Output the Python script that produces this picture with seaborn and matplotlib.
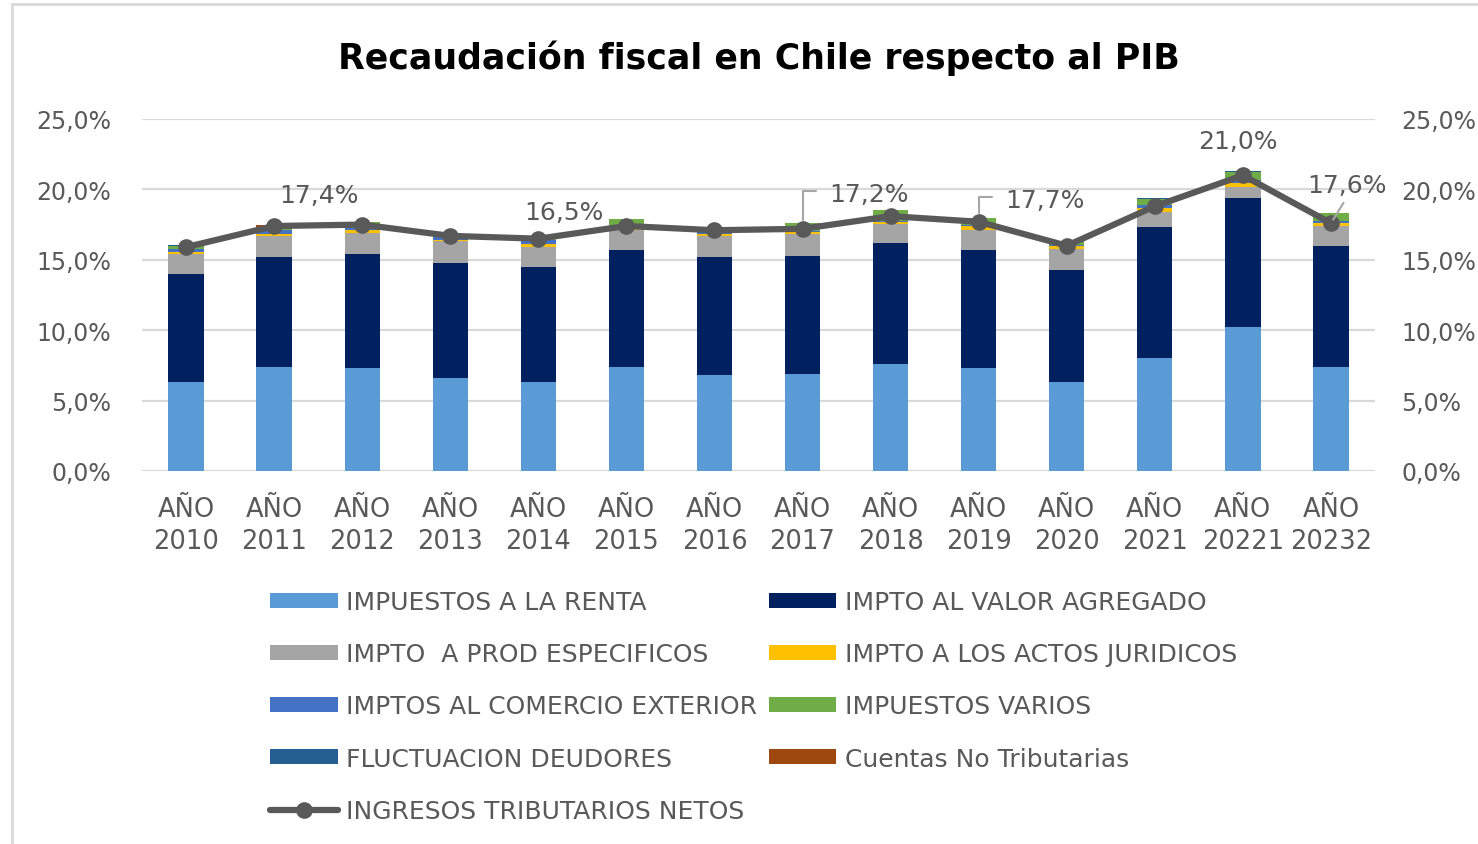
import matplotlib

matplotlib.use("Agg")

import numpy as np
import matplotlib.pyplot as plt
import seaborn as sns
from matplotlib.patches import Patch, Rectangle
from matplotlib.lines import Line2D
from matplotlib.ticker import FuncFormatter

# Categories
years = ["2010", "2011", "2012", "2013", "2014", "2015", "2016",
         "2017", "2018", "2019", "2020", "2021", "20221", "20232"]
categories = ["AÑO\n" + y for y in years]

# Series values (% del PIB)
renta = [6.3, 7.4, 7.3, 6.6, 6.3, 7.4, 6.8, 6.9, 7.6, 7.3, 6.3, 8.0, 10.2, 7.4]
iva = [7.7, 7.8, 8.1, 8.2, 8.2, 8.3, 8.4, 8.4, 8.6, 8.4, 8.0, 9.3, 9.2, 8.6]
prod_especificos = [1.4, 1.5, 1.5, 1.5, 1.4, 1.4, 1.5, 1.5, 1.35, 1.4, 1.5, 1.1, 0.8, 1.4]
actos_juridicos = [0.17, 0.15, 0.19, 0.12, 0.19, 0.1, 0.13, 0.19, 0.17, 0.31, 0.19, 0.29, 0.23, 0.19]
comercio_exterior = [0.19, 0.24, 0.17, 0.19, 0.31, 0.05, 0.15, 0.05, 0.05, 0.05, 0.05, 0.19, 0.24, 0.16]
impuestos_varios = [0.24, 0.1, 0.42, 0.05, 0.12, 0.65, 0.05, 0.55, 0.75, 0.5, 0.25, 0.47, 0.59, 0.55]
fluctuacion = [0.02, 0.02, 0.02, 0.02, 0.02, 0.02, 0.02, 0.02, 0.02, 0.02, 0.02, 0.02, 0.02, 0.02]
cuentas_no_trib = [0.0, 0.25, 0.0, 0.0, 0.0, 0.0, 0.0, 0.0, 0.0, 0.0, 0.0, 0.0, 0.0, 0.0]

ingresos_netos = [15.9, 17.4, 17.5, 16.7, 16.5, 17.4, 17.1, 17.2, 18.1, 17.7, 16.0, 18.8, 21.0, 17.6]

series_names = [
    "IMPUESTOS A LA RENTA",
    "IMPTO AL VALOR AGREGADO",
    "IMPTO  A PROD ESPECIFICOS",
    "IMPTO A LOS ACTOS JURIDICOS",
    "IMPTOS AL COMERCIO EXTERIOR",
    "IMPUESTOS VARIOS",
    "FLUCTUACION DEUDORES",
    "Cuentas No Tributarias",
]
line_name = "INGRESOS TRIBUTARIOS NETOS"

# points that carry a data label
label_idx = [1, 4, 7, 9, 12, 13]

colors = ["#5B9BD5", "#002060", "#A5A5A5", "#FFC000",
          "#4472C4", "#70AD47", "#255E91", "#9E480E"]
text_color = "#595959"
grid_color = "#D9D9D9"

sns.set_style("white")
plt.rcParams["font.family"] = ["DejaVu Sans"]

fig = plt.figure(figsize=(14.78, 8.45), dpi=100)
ax = fig.add_axes([142 / 1478, 1 - 472 / 845, (1375 - 142) / 1478, (472 - 120) / 845])

layers = [renta, iva, prod_especificos, actos_juridicos, comercio_exterior,
          impuestos_varios, fluctuacion, cuentas_no_trib]
cum = np.cumsum(np.array(layers), axis=0)

# stacked bars: draw cumulative totals from the top layer down
for i in range(len(layers) - 1, -1, -1):
    sns.barplot(x=categories, y=cum[i], color=colors[i], width=0.4,
                saturation=1, linewidth=0, ax=ax, zorder=2)

pos = np.arange(len(categories))
sns.lineplot(x=pos, y=ingresos_netos, color="#595959", linewidth=4.5,
             marker="o", markersize=12, markeredgewidth=0, ax=ax, zorder=4)

ax.set_xlim(-0.5, len(categories) - 0.5)
ax.set_ylim(0, 25)
ax.set_yticks([0, 5, 10, 15, 20, 25])
pct = FuncFormatter(lambda v, p: f"{v:.1f}%".replace(".", ","))
ax.yaxis.set_major_formatter(pct)
ax.grid(axis="y", color=grid_color, linewidth=1.6, zorder=0)
ax.set_axisbelow(True)
for s in ax.spines.values():
    s.set_visible(False)
ax.set_xlabel("")
ax.set_ylabel("")
ax.tick_params(axis="y", length=0, pad=22, labelsize=17, labelcolor=text_color)
ax.tick_params(axis="x", length=0, pad=18, labelsize=18.5, labelcolor=text_color)
for t in ax.get_xticklabels():
    t.set_linespacing(1.3)

ax2 = ax.twinx()
ax2.set_ylim(0, 25)
ax2.set_yticks([0, 5, 10, 15, 20, 25])
ax2.yaxis.set_major_formatter(pct)
ax2.tick_params(axis="y", length=0, pad=19, labelsize=17, labelcolor=text_color)
for s in ax2.spines.values():
    s.set_visible(False)
ax2.grid(False)

# data labels
offsets = {1: (45, 31), 4: (26, 27), 7: (66, 35), 9: (66, 22), 12: (-5, 34), 13: (16, 38)}
leader = {7: "elbow", 9: "elbow", 13: "straight"}
for i in label_idx:
    txt = f"{ingresos_netos[i]:.1f}%".replace(".", ",")
    dx, dy = offsets[i]
    kw = dict(xy=(pos[i], ingresos_netos[i]), xytext=(dx, dy),
              textcoords="offset pixels", ha="center", va="center",
              fontsize=18, color=text_color, zorder=5)
    if leader.get(i) == "elbow":
        kw["arrowprops"] = dict(arrowstyle="-", color="#A6A6A6", lw=1.5,
                                relpos=(0, 0.6), shrinkA=7, shrinkB=6,
                                connectionstyle="angle,angleA=0,angleB=90,rad=0")
    elif leader.get(i) == "straight":
        kw["arrowprops"] = dict(arrowstyle="-", color="#A6A6A6", lw=1.5,
                                relpos=(0.5, 0), shrinkA=2, shrinkB=3)
    ax.annotate(txt, **kw)

fig.text(759 / 1478, 1 - 58 / 845, "Recaudación fiscal en Chile respecto al PIB",
         ha="center", va="center", fontsize=25, fontweight="bold", color="black")

# legend: column-first order
bar_handles = [Patch(facecolor=c, edgecolor="none") for c in colors]
line_handle = Line2D([0], [0], color="#595959", linewidth=4.5, marker="o",
                     markersize=12, markeredgewidth=0)
col1 = [0, 2, 4, 6]
col2 = [1, 3, 5, 7]
handles = [bar_handles[k] for k in col1] + [line_handle] + [bar_handles[k] for k in col2]
labels = [series_names[k] for k in col1] + [line_name] + [series_names[k] for k in col2]
leg = fig.legend(handles, labels, ncol=2, loc="upper left",
                 bbox_to_anchor=(270 / 1478, 1 - 591 / 845), frameon=False,
                 fontsize=18, handlelength=2.7, handleheight=0.55,
                 handletextpad=0.36, columnspacing=0.45, labelspacing=1.13,
                 borderaxespad=0, borderpad=0)
for t in leg.get_texts():
    t.set_color(text_color)

# chart frame (partially cropped in the reference)
fig.patches.append(Rectangle((12 / 1478, -0.1), 1.2, 1 - 5 / 845 + 0.1,
                             transform=fig.transFigure, fill=False,
                             edgecolor=grid_color, linewidth=2))

fig.savefig("out.png", dpi=100, facecolor="white")
